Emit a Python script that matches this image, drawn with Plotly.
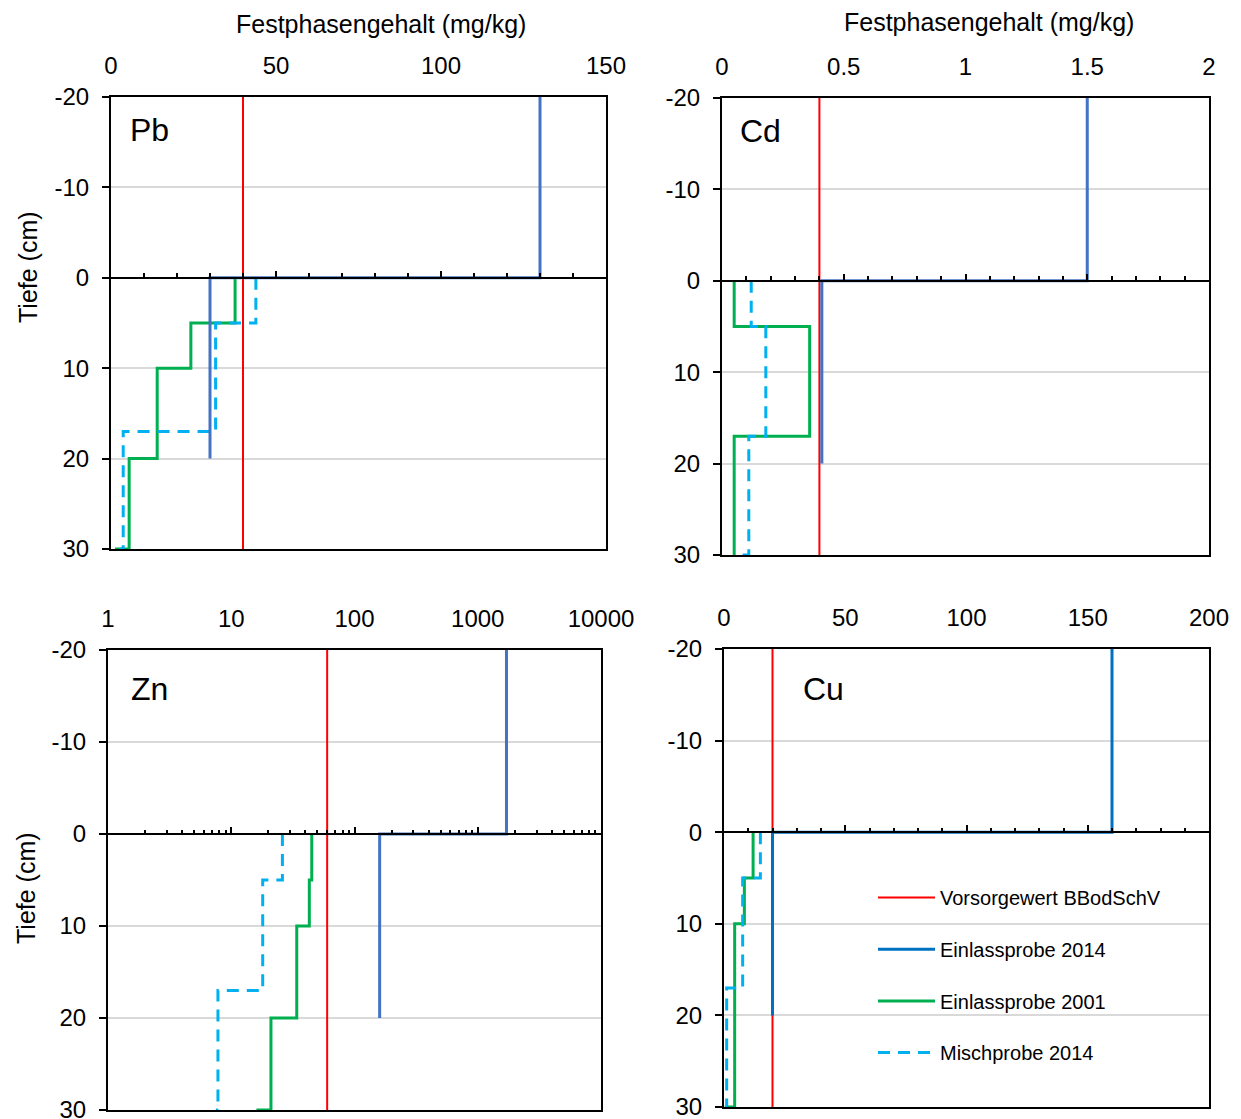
import plotly.graph_objects as go

W, H = 1241, 1119

# ---------------- data ----------------
depth_ref = [-20, 30]
depth_ticks = [-20, -10, 0, 10, 20, 30]
depth_labels = ["-20", "-10", "0", "10", "20", "30"]

pb_ref = 40
pb_ein2014_x = [130, 130, 30, 30]
pb_ein2014_y = [-20, 0, 0, 20]
pb_ein2001_x = [37.6, 37.6, 24.2, 24.2, 14.0, 14.0, 5.5, 5.5, 1.2]
pb_ein2001_y = [0, 5, 5, 10, 10, 20, 20, 30, 30]
pb_misch_x = [43.9, 43.9, 31.7, 31.7, 3.7, 3.7, 2.7]
pb_misch_y = [0, 5, 5, 17, 17, 30, 30]

cd_ref = 0.4
cd_ein2014_x = [1.5, 1.5, 0.41, 0.41]
cd_ein2014_y = [-20, 0, 0, 20]
cd_ein2001_x = [0.05, 0.05, 0.36, 0.36, 0.05, 0.05]
cd_ein2001_y = [0, 5, 5, 17, 17, 30]
cd_misch_x = [0.12, 0.12, 0.18, 0.18, 0.11, 0.11, 0.06]
cd_misch_y = [0, 5, 5, 17, 17, 30, 30]

zn_ref = 60
zn_ein2014_x = [1710, 1710, 160, 160]
zn_ein2014_y = [-20, 0, 0, 20]
zn_ein2001_x = [45, 45, 43, 43, 34, 34, 21, 21, 16]
zn_ein2001_y = [0, 5, 5, 10, 10, 20, 20, 30, 30]
zn_misch_x = [26, 26, 18, 18, 7.8, 7.8, 7.5]
zn_misch_y = [0, 5, 5, 17, 17, 30, 30]
zn_ticks = [1, 10, 100, 1000, 10000]
zn_labels = ["1", "10", "100", "1000", "10000"]

cu_ref = 20
cu_ein2014_x = [160, 160, 20, 20]
cu_ein2014_y = [-20, 0, 0, 20]
cu_ein2001_x = [12, 12, 8.4, 8.4, 4.4, 4.4, 0.3]
cu_ein2001_y = [0, 5, 5, 10, 10, 30, 30]
cu_misch_x = [15, 15, 7.7, 7.7, 1.1, 1.1]
cu_misch_y = [0, 5, 5, 17, 17, 30]

names = ["Vorsorgewert BBodSchV", "Einlassprobe 2014", "Einlassprobe 2001", "Mischprobe 2014"]

FONT = "Liberation Sans, Arial, sans-serif"
RED, GREEN, CYAN = "#FF0000", "#00B050", "#00B0F0"

panels = [
    dict(label="Pb", box=(111, 97, 606, 549), xr=[0, 150], log=False, dtick=50, minor=10,
         ref=pb_ref, e14=(pb_ein2014_x, pb_ein2014_y), e01=(pb_ein2001_x, pb_ein2001_y),
         mi=(pb_misch_x, pb_misch_y), blue="#4472C4", lab=(128, 130)),
    dict(label="Cd", box=(722, 98, 1209, 555), xr=[0, 2], log=False, dtick=0.5, minor=0.1,
         ref=cd_ref, e14=(cd_ein2014_x, cd_ein2014_y), e01=(cd_ein2001_x, cd_ein2001_y),
         mi=(cd_misch_x, cd_misch_y), blue="#4472C4", lab=(738, 131)),
    dict(label="Zn", box=(108, 650, 601, 1110), xr=[0, 4], log=True, dtick=1, minor=None,
         ref=zn_ref, e14=(zn_ein2014_x, zn_ein2014_y), e01=(zn_ein2001_x, zn_ein2001_y),
         mi=(zn_misch_x, zn_misch_y), blue="#4472C4", lab=(129, 689)),
    dict(label="Cu", box=(724, 649, 1209, 1107), xr=[0, 200], log=False, dtick=50, minor=10,
         ref=cu_ref, e14=(cu_ein2014_x, cu_ein2014_y), e01=(cu_ein2001_x, cu_ein2001_y),
         mi=(cu_misch_x, cu_misch_y), blue="#0070C0", lab=(801, 689)),
]

fig = go.Figure()
layout = {}
annotations = []

for k, p in enumerate(panels, start=1):
    xs = "" if k == 1 else str(k)
    xid, yid = "x" + xs, "y" + xs
    ox = "x" + str(k + 4)
    x0, y0, x1, y1 = p["box"]
    dom_x = [x0 / W, x1 / W]
    dom_y = [1 - y1 / H, 1 - y0 / H]
    zero_pos = dom_y[0] + (30 - 0) / 50 * (dom_y[1] - dom_y[0])
    legend_on = (p["label"] == "Cu")

    ex, ey = p["e01"]
    fig.add_trace(go.Scatter(x=ex, y=ey, mode="lines", name=names[2], xaxis=xid, yaxis=yid,
                             line=dict(color=GREEN, width=3), showlegend=legend_on,
                             legendgroup="g3", legendrank=3))
    mx, my = p["mi"]
    fig.add_trace(go.Scatter(x=mx, y=my, mode="lines", name=names[3], xaxis=xid, yaxis=yid,
                             line=dict(color=CYAN, width=3, dash="12px,8px"), showlegend=legend_on,
                             legendgroup="g4", legendrank=4))
    fig.add_trace(go.Scatter(x=[p["ref"], p["ref"]], y=depth_ref, mode="lines", name=names[0],
                             xaxis=xid, yaxis=yid, line=dict(color=RED, width=2),
                             showlegend=legend_on, legendgroup="g1", legendrank=1))
    bx, by = p["e14"]
    fig.add_trace(go.Scatter(x=bx, y=by, mode="lines", name=names[1], xaxis=xid, yaxis=yid,
                             line=dict(color=p["blue"], width=3), showlegend=legend_on,
                             legendgroup="g2", legendrank=2))
    # dummy trace so the zero-line axis is drawn
    fig.add_trace(go.Scatter(x=[None], y=[None], xaxis=ox, yaxis=yid, showlegend=False,
                             hoverinfo="skip"))

    xtype = "log" if p["log"] else "linear"
    main_x = dict(domain=dom_x, anchor=yid, side="top", range=p["xr"], type=xtype,
                  showline=True, mirror=True, linewidth=2, linecolor="black",
                  ticks="outside", ticklen=11, tickcolor="rgba(0,0,0,0)",
                  showgrid=False, zeroline=False, tickfont=dict(size=24, color="black"))
    if p["log"]:
        main_x.update(tickmode="array", tickvals=zn_ticks, ticktext=zn_labels)
    else:
        main_x.update(dtick=p["dtick"], tick0=0)
    layout["xaxis" + xs] = main_x

    layout["yaxis" + xs] = dict(domain=dom_y, anchor=xid, range=[30, -20],
                                tickmode="array", tickvals=depth_ticks, ticktext=depth_labels,
                                ticks="outside", ticklen=7, tickwidth=2, tickcolor="black",
                                showline=True, mirror=True, linewidth=2, linecolor="black",
                                showgrid=True, gridcolor="#D9D9D9", gridwidth=1.5,
                                zeroline=False, tickfont=dict(size=24, color="black"),
                                ticklabelstandoff=8, ticklabeloverflow="allow")

    zero_x = dict(overlaying=xid, anchor="free", position=zero_pos, domain=dom_x,
                  range=p["xr"], type=xtype, side="bottom", ticks="inside", ticklen=6,
                  tickwidth=1.5, tickcolor="black", showline=True, linewidth=2,
                  linecolor="black", showticklabels=False, showgrid=False, zeroline=False)
    if p["log"]:
        minor_vals = [m * 10 ** e for e in range(4) for m in range(2, 10)]
        zero_x.update(tickmode="array", tickvals=zn_ticks,
                      minor=dict(tickmode="array", tickvals=minor_vals, ticks="inside",
                                 ticklen=3.5, tickwidth=1.5, tickcolor="black"))
    else:
        zero_x.update(dtick=p["dtick"], tick0=0,
                      minor=dict(dtick=p["minor"], tick0=0, ticks="inside", ticklen=3.5,
                                 tickwidth=1.5, tickcolor="black"))
    layout["xaxis" + str(k + 4)] = zero_x

    lx, ly = p["lab"]
    annotations.append(dict(text=p["label"], x=lx / W, y=1 - ly / H, xref="paper", yref="paper",
                            xanchor="left", yanchor="middle", showarrow=False,
                            font=dict(size=32, color="black")))

for (tx, ty) in [(381, 24), (989, 22)]:
    annotations.append(dict(text="Festphasengehalt (mg/kg)", x=tx / W, y=1 - ty / H,
                            xref="paper", yref="paper", xanchor="center", yanchor="middle",
                            showarrow=False, font=dict(size=25, color="black")))
for (tx, ty) in [(28, 267), (26, 888)]:
    annotations.append(dict(text="Tiefe (cm)", x=tx / W, y=1 - ty / H, xref="paper", yref="paper",
                            xanchor="center", yanchor="middle", textangle=-90,
                            showarrow=False, font=dict(size=25, color="black")))

fig.update_layout(
    width=W, height=H, margin=dict(l=0, r=0, t=0, b=0, autoexpand=False),
    paper_bgcolor="white", plot_bgcolor="white",
    font=dict(family=FONT, color="black"),
    showlegend=True,
    legend=dict(x=873 / W, y=1 - 878 / H, xanchor="left", yanchor="top",
                font=dict(size=20, color="black"), bgcolor="rgba(0,0,0,0)",
                traceorder="grouped", tracegroupgap=22.7, itemwidth=57),
    annotations=annotations,
    **layout,
)

fig.write_html("out.html")
